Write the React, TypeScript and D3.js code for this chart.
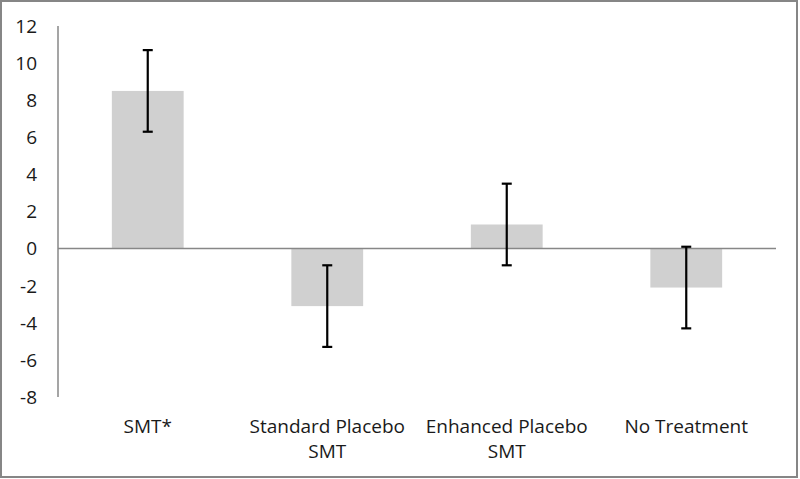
import { useEffect, useRef } from 'react';
import * as d3 from 'd3';

const categories = ['SMT*', 'Standard Placebo\nSMT', 'Enhanced Placebo\nSMT', 'No Treatment'];
const means = [8.5, -3.1, 1.3, -2.1];
const errors = [2.2, 2.2, 2.2, 2.2];
const yTicks = [-8, -6, -4, -2, 0, 2, 4, 6, 8, 10, 12];

export default function App() {
    const ref = useRef<SVGSVGElement | null>(null);

    useEffect(() => {
        document.body.style.margin = '0';
        const width = 800;
        const height = 479;
        const margin = { top: 26, right: 24, bottom: 82, left: 58 };

        const svg = d3.select(ref.current);
        svg.selectAll('*').remove();
        svg.attr('width', width).attr('height', height);

        // outer frame
        svg.append('rect')
            .attr('x', 1).attr('y', 1)
            .attr('width', width - 4).attr('height', height - 3)
            .attr('fill', '#fff')
            .attr('stroke', '#868686')
            .attr('stroke-width', 2);

        const x = d3.scaleBand<string>()
            .domain(categories)
            .range([margin.left, width - margin.right])
            .paddingInner(0.6)
            .paddingOuter(0.3);

        const y = d3.scaleLinear()
            .domain([-8, 12])
            .range([height - margin.bottom, margin.top]);

        const font = '"Open Sans", Lato, sans-serif';

        // y axis line
        svg.append('line')
            .attr('x1', margin.left).attr('x2', margin.left)
            .attr('y1', y(12)).attr('y2', y(-8))
            .attr('stroke', '#878787').attr('stroke-width', 1.5);

        // y tick labels
        svg.append('g')
            .selectAll('text')
            .data(yTicks)
            .enter()
            .append('text')
            .attr('x', 37)
            .attr('y', (d) => y(d))
            .attr('dy', '0.36em')
            .attr('text-anchor', 'end')
            .attr('font-family', font)
            .attr('font-size', '19px')
            .attr('fill', '#1a1a1a')
            .text((d) => String(d));

        // bars
        svg.append('g')
            .selectAll('rect')
            .data(means)
            .enter()
            .append('rect')
            .attr('x', (_, i) => x(categories[i])!)
            .attr('width', x.bandwidth())
            .attr('y', (d) => y(Math.max(0, d)))
            .attr('height', (d) => Math.abs(y(d) - y(0)))
            .attr('fill', '#d0d0d0');

        // zero line
        svg.append('line')
            .attr('x1', margin.left).attr('x2', width - margin.right)
            .attr('y1', y(0)).attr('y2', y(0))
            .attr('stroke', '#878787').attr('stroke-width', 1.5);

        // error bars
        const eb = svg.append('g')
            .selectAll('g')
            .data(means)
            .enter()
            .append('g')
            .attr('transform', (_, i) => `translate(${x(categories[i])! + x.bandwidth() / 2},0)`);

        eb.append('line')
            .attr('y1', (d, i) => y(d + errors[i]))
            .attr('y2', (d, i) => y(d - errors[i]))
            .attr('stroke', '#000').attr('stroke-width', 2.2);
        eb.append('line')
            .attr('x1', -5).attr('x2', 5)
            .attr('y1', (d, i) => y(d + errors[i]))
            .attr('y2', (d, i) => y(d + errors[i]))
            .attr('stroke', '#000').attr('stroke-width', 2.2);
        eb.append('line')
            .attr('x1', -5).attr('x2', 5)
            .attr('y1', (d, i) => y(d - errors[i]))
            .attr('y2', (d, i) => y(d - errors[i]))
            .attr('stroke', '#000').attr('stroke-width', 2.2);

        // category labels
        const labels = svg.append('g')
            .selectAll('text')
            .data(categories)
            .enter()
            .append('text')
            .attr('x', (d) => x(d)! + x.bandwidth() / 2)
            .attr('y', 433)
            .attr('text-anchor', 'middle')
            .attr('font-family', font)
            .attr('font-size', '19px')
            .attr('fill', '#1a1a1a');

        labels.selectAll('tspan')
            .data((d) => d.split('\n'))
            .enter()
            .append('tspan')
            .attr('x', function () {
                return (this.parentNode as SVGTextElement).getAttribute('x');
            })
            .attr('dy', (_, i) => (i === 0 ? 0 : 25))
            .text((d) => d);
    }, []);

    return <svg ref={ref} />;
}
